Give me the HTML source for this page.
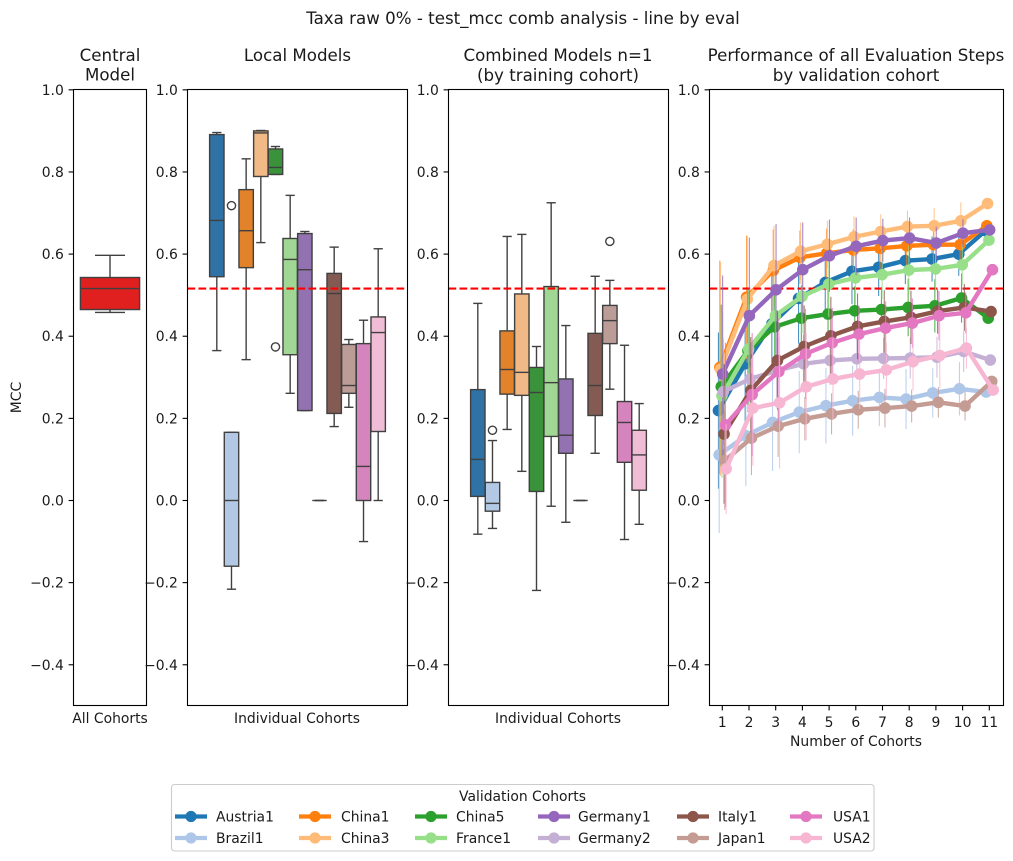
<!DOCTYPE html>
<html>
<head>
<meta charset="utf-8">
<title>Taxa raw 0% - test_mcc comb analysis - line by eval</title>
<style>
html,body{margin:0;padding:0;background:#fff;}
svg{display:block;}
text{font-family:"DejaVu Sans","Liberation Sans",sans-serif;fill:#1a1a1a;}
.tick{font-size:13.9px;}
.ttl{font-size:16.67px;text-anchor:middle;}
.lab{font-size:13.9px;text-anchor:middle;}
.leg{font-size:13.9px;}
</style>
</head>
<body>
<svg id="chart" width="1013" height="861" viewBox="0 0 1013 861" xmlns="http://www.w3.org/2000/svg">
<rect width="1013" height="861" fill="#fff"/>
<g id="plots"></g>

<text class="ttl" x="523" y="24">Taxa raw 0% - test_mcc comb analysis - line by eval</text>

<text class="ttl" x="110" y="61">Central</text>
<text class="ttl" x="110" y="80.5">Model</text>
<text class="ttl" x="297.5" y="61">Local Models</text>
<text class="ttl" x="558" y="61">Combined Models n=1</text>
<text class="ttl" x="558" y="81">(by training cohort)</text>
<text class="ttl" x="856" y="61">Performance of all Evaluation Steps</text>
<text class="ttl" x="856" y="81">by validation cohort</text>

<text class="lab" x="110" y="723">All Cohorts</text>
<text class="lab" x="297" y="723">Individual Cohorts</text>
<text class="lab" x="558" y="723">Individual Cohorts</text>
<text class="lab" x="856" y="746">Number of Cohorts</text>
<text class="lab" transform="translate(21,397.5) rotate(-90)">MCC</text>

<g>
<rect x="171.5" y="784.5" width="702.5" height="66.5" rx="3" fill="#fff" stroke="#cccccc" stroke-width="1.1"/>
<text class="leg" x="522.5" y="801" text-anchor="middle">Validation Cohorts</text>

<g><line x1="175" x2="207" y1="816.5" y2="816.5" stroke="#1f77b4" stroke-width="4.2"/><circle cx="191" cy="816.5" r="5.6" fill="#1f77b4"/><text class="leg" x="216" y="821.5">Austria1</text></g>
<g><line x1="175" x2="207" y1="838" y2="838" stroke="#aec7e8" stroke-width="4.2"/><circle cx="191" cy="838" r="5.6" fill="#aec7e8"/><text class="leg" x="216" y="843">Brazil1</text></g>
<g><line x1="299" x2="331" y1="816.5" y2="816.5" stroke="#ff7f0e" stroke-width="4.2"/><circle cx="315" cy="816.5" r="5.6" fill="#ff7f0e"/><text class="leg" x="341" y="821.5">China1</text></g>
<g><line x1="299" x2="331" y1="838" y2="838" stroke="#ffbb78" stroke-width="4.2"/><circle cx="315" cy="838" r="5.6" fill="#ffbb78"/><text class="leg" x="341" y="843">China3</text></g>
<g><line x1="415" x2="447" y1="816.5" y2="816.5" stroke="#2ca02c" stroke-width="4.2"/><circle cx="431" cy="816.5" r="5.6" fill="#2ca02c"/><text class="leg" x="456" y="821.5">China5</text></g>
<g><line x1="415" x2="447" y1="838" y2="838" stroke="#98df8a" stroke-width="4.2"/><circle cx="431" cy="838" r="5.6" fill="#98df8a"/><text class="leg" x="456" y="843">France1</text></g>
<g><line x1="538" x2="570" y1="816.5" y2="816.5" stroke="#9467bd" stroke-width="4.2"/><circle cx="554" cy="816.5" r="5.6" fill="#9467bd"/><text class="leg" x="578" y="821.5">Germany1</text></g>
<g><line x1="538" x2="570" y1="838" y2="838" stroke="#c5b0d5" stroke-width="4.2"/><circle cx="554" cy="838" r="5.6" fill="#c5b0d5"/><text class="leg" x="578" y="843">Germany2</text></g>
<g><line x1="677" x2="709" y1="816.5" y2="816.5" stroke="#8c564b" stroke-width="4.2"/><circle cx="693" cy="816.5" r="5.6" fill="#8c564b"/><text class="leg" x="718" y="821.5">Italy1</text></g>
<g><line x1="677" x2="709" y1="838" y2="838" stroke="#c49c94" stroke-width="4.2"/><circle cx="693" cy="838" r="5.6" fill="#c49c94"/><text class="leg" x="718" y="843">Japan1</text></g>
<g><line x1="790" x2="822" y1="816.5" y2="816.5" stroke="#e377c2" stroke-width="4.2"/><circle cx="806" cy="816.5" r="5.6" fill="#e377c2"/><text class="leg" x="833" y="821.5">USA1</text></g>
<g><line x1="790" x2="822" y1="838" y2="838" stroke="#f7b6d2" stroke-width="4.2"/><circle cx="806" cy="838" r="5.6" fill="#f7b6d2"/><text class="leg" x="833" y="843">USA2</text></g>
</g>
</svg>

<script>
// ---------- data ----------
const cohorts = ['Austria1','Brazil1','China1','China3','China5','France1','Germany1','Germany2','Italy1','Japan1','USA1','USA2'];
const yTickValues = [1.0,0.8,0.6,0.4,0.2,0.0,-0.2,-0.4];
const yTickLabels = ['1.0','0.8','0.6','0.4','0.2','0.0','\u22120.2','\u22120.4'];
const xTickLabels = ['1','2','3','4','5','6','7','8','9','10','11'];
const referenceMcc = 0.516;

// central model box: whisker low, q1, median, q3, whisker high
const centralStats = [0.458,0.465,0.516,0.543,0.597];

// local models, one entry per cohort
const localWhiskerLow  = [0.365,-0.216,0.343,0.628,0.794,0.261,0.219,0,0.180,0.227,-0.100,0.000];
const localQ1          = [0.545,-0.160,0.567,0.789,0.794,0.355,0.219,0,0.212,0.261,0.000,0.168];
const localMedian      = [0.682,0.000,0.657,0.895,0.811,0.587,0.562,0,0.504,0.280,0.083,0.409];
const localQ3          = [0.891,0.166,0.757,0.900,0.856,0.638,0.650,0,0.553,0.380,0.382,0.447];
const localWhiskerHigh = [0.896,0.166,0.832,0.901,0.862,0.743,0.655,0,0.617,0.392,0.439,0.613];
const localOutlierCohort = [1,4];
const localOutlierValue  = [0.718,0.374];

// combined models, one entry per cohort
const combinedWhiskerLow  = [-0.082,-0.068,0.173,0.071,-0.219,-0.014,-0.053,0,0.115,0.271,-0.095,-0.058];
const combinedQ1          = [0.010,-0.026,0.259,0.256,0.022,0.156,0.115,0,0.207,0.382,0.093,0.025];
const combinedMedian      = [0.100,-0.007,0.319,0.312,0.263,0.287,0.159,0,0.280,0.438,0.190,0.111];
const combinedQ3          = [0.270,0.044,0.413,0.503,0.324,0.521,0.296,0,0.407,0.475,0.241,0.171];
const combinedWhiskerHigh = [0.480,0.146,0.643,0.648,0.375,0.725,0.426,0,0.546,0.536,0.378,0.236];
const combinedOutlierCohort = [1,9];
const combinedOutlierValue  = [0.171,0.631];

// evaluation-step series
const austria1 = [0.219,0.333,0.430,0.492,0.531,0.558,0.568,0.584,0.588,0.600,0.657];
const brazil1  = [0.111,0.158,0.190,0.215,0.231,0.243,0.251,0.247,0.262,0.272,0.264];
const china1   = [0.324,0.495,0.560,0.592,0.602,0.610,0.614,0.620,0.623,0.623,0.669];
const china3   = [0.320,0.490,0.572,0.607,0.624,0.642,0.655,0.667,0.669,0.681,0.723];
const china5   = [0.277,0.365,0.423,0.444,0.454,0.462,0.465,0.470,0.474,0.493,0.444];
const france1  = [0.255,0.369,0.450,0.497,0.527,0.542,0.550,0.561,0.564,0.574,0.634];
const germany1 = [0.308,0.450,0.513,0.562,0.596,0.619,0.633,0.639,0.627,0.651,0.659];
const germany2 = [0.265,0.296,0.316,0.333,0.341,0.345,0.346,0.347,0.349,0.363,0.342];
const italy1   = [0.162,0.268,0.341,0.375,0.401,0.424,0.436,0.446,0.461,0.470,0.460];
const japan1   = [0.097,0.152,0.181,0.199,0.211,0.221,0.225,0.230,0.239,0.230,0.290];
const usa1     = [0.184,0.258,0.314,0.357,0.384,0.405,0.420,0.432,0.450,0.457,0.562];
const usa2     = [0.077,0.225,0.238,0.277,0.296,0.308,0.318,0.338,0.353,0.371,0.269];

// error half-widths for each evaluation-step series
const austria1Err = [0.190,0.150,0.130,0.110,0.090,0.080,0.070,0.057,0.055,0.053,0];
const brazil1Err  = [0.190,0.123,0.118,0.100,0.092,0.085,0.070,0.073,0.060,0.065,0];
const china1Err   = [0.260,0.150,0.100,0.065,0.060,0.050,0.050,0.050,0.045,0.040,0];
const china3Err   = [0.260,0.154,0.097,0.070,0.057,0.050,0.042,0.039,0.043,0.045,0];
const china5Err   = [0.200,0.150,0.100,0.080,0.070,0.060,0.055,0.070,0.065,0.060,0];
const france1Err  = [0.200,0.140,0.100,0.090,0.080,0.065,0.060,0.060,0.055,0.050,0];
const germany1Err = [0.240,0.190,0.160,0.115,0.088,0.070,0.053,0.050,0.040,0.034,0];
const germany2Err = [0.130,0.090,0.080,0.070,0.060,0.050,0.050,0.050,0.050,0.050,0];
const italy1Err   = [0.170,0.130,0.120,0.100,0.095,0.080,0.076,0.065,0.055,0.057,0];
const japan1Err   = [0.120,0.090,0.075,0.053,0.050,0.046,0.047,0.040,0.037,0.035,0];
const usa1Err     = [0.200,0.150,0.130,0.110,0.085,0.070,0.065,0.060,0.060,0.050,0];
const usa2Err     = [0.110,0.140,0.160,0.130,0.100,0.085,0.066,0.070,0.080,0.050,0];

const seriesValues = [austria1,brazil1,china1,china3,china5,france1,germany1,germany2,italy1,japan1,usa1,usa2];
const seriesErrors = [austria1Err,brazil1Err,china1Err,china3Err,china5Err,france1Err,germany1Err,germany2Err,italy1Err,japan1Err,usa1Err,usa2Err];

// ---------- styles and layout ----------
const lineColors = ['#1f77b4','#aec7e8','#ff7f0e','#ffbb78','#2ca02c','#98df8a','#9467bd','#c5b0d5','#8c564b','#c49c94','#e377c2','#f7b6d2'];
const boxColors  = ['#2f72a5','#b3c8e4','#e2822a','#f0b985','#3a923a','#a1d795','#9372b2','#c5b5d3','#845b53','#bc9c97','#d684bd','#f0bcd6'];
const EDGE = '#404040';
const TOP = 89.5, BOTTOM = 705.5;
const SVGNS = 'http://www.w3.org/2000/svg';
const root = document.getElementById('plots');

function yScale(v){ return 500.5 - v * 410.67; }
function xBand(panel, i){ return (panel.left + panel.right) / 2 + (i - 5.5) * 14.67; }
function xStep(n){ return 722.3 + n * 26.7; }
function dodge(i){ return (i - 5.5) * 0.7; }

function mk(tag, attrs, parent){
  const node = document.createElementNS(SVGNS, tag);
  for (const k in attrs) node.setAttribute(k, attrs[k]);
  parent.appendChild(node);
  return node;
}
function mkLine(x1, y1, x2, y2, stroke, width, parent){
  return mk('line', {x1:x1, y1:y1, x2:x2, y2:y2, stroke:stroke, 'stroke-width':width}, parent);
}

function drawBox(parent, cx, halfW, capHalf, lo, q1, med, q3, hi, color, label){
  const g = mk('g', {}, parent);
  
  
  mkLine(cx, yScale(q3), cx, yScale(hi), EDGE, 1.4, g);
  mkLine(cx, yScale(q1), cx, yScale(lo), EDGE, 1.4, g);
  mkLine(cx - capHalf, yScale(hi), cx + capHalf, yScale(hi), EDGE, 1.4, g);
  mkLine(cx - capHalf, yScale(lo), cx + capHalf, yScale(lo), EDGE, 1.4, g);
  mk('rect', {x:cx - halfW, y:yScale(q3), width:2 * halfW, height:Math.max(0, yScale(q1) - yScale(q3)), fill:color, stroke:EDGE, 'stroke-width':1.4}, g);
  mkLine(cx - halfW, yScale(med), cx + halfW, yScale(med), EDGE, 1.4, g);
}

function drawRefLine(parent, panel){
  const ref = mkLine(panel.left, yScale(referenceMcc), panel.right, yScale(referenceMcc), '#ff0000', 2.08, parent);
  ref.setAttribute('stroke-dasharray', '7.7 3.3');
  
  
}

function drawFrame(parent, panel){
  const frame = mk('rect', {x:panel.left, y:TOP, width:panel.right - panel.left, height:BOTTOM - TOP, fill:'none', stroke:'#000', 'stroke-width':1.1}, parent);
  
  
  yTickValues.forEach(function(v, i){
    const t = mkLine(panel.left - 4.9, yScale(v), panel.left, yScale(v), '#000', 1.1, parent);
    
    
    const lab = mk('text', {x:panel.left - 9.7, y:yScale(v) + 5, 'text-anchor':'end', 'class':'tick'}, parent);
    lab.textContent = yTickLabels[i];
    
    
  });
}

function drawBoxPanel(panel, lo, q1, med, q3, hi, outCohort, outValue){
  const g = mk('g', {}, root);
  
  
  cohorts.forEach(function(c, i){
    drawBox(g, xBand(panel, i), 7.2, 4.6, lo[i], q1[i], med[i], q3[i], hi[i], boxColors[i], c);
  });
  outCohort.forEach(function(ci, j){
    const o = mk('circle', {cx:xBand(panel, ci), cy:yScale(outValue[j]), r:4.1, fill:'#fff', stroke:EDGE, 'stroke-width':1.4}, g);
    
    
  });
  drawRefLine(g, panel);
  drawFrame(g, panel);
}

// central panel
const centralPanel = {name:'central', left:73.5, right:146.5};
(function(){
  const g = mk('g', {}, root);
  
  
  drawBox(g, 110, 29.6, 15, centralStats[0], centralStats[1], centralStats[2], centralStats[3], centralStats[4], '#e01f1f', 'all-cohorts');
  drawFrame(g, centralPanel);
})();

// local and combined panels
const localPanel = {name:'local', left:187.5, right:407.5};
const combinedPanel = {name:'combined', left:448.5, right:668.5};
drawBoxPanel(localPanel, localWhiskerLow, localQ1, localMedian, localQ3, localWhiskerHigh, localOutlierCohort, localOutlierValue);
drawBoxPanel(combinedPanel, combinedWhiskerLow, combinedQ1, combinedMedian, combinedQ3, combinedWhiskerHigh, combinedOutlierCohort, combinedOutlierValue);

// performance panel
const perfPanel = {name:'performance', left:709.5, right:1003.5};
(function(){
  const g = mk('g', {}, root);
  
  
  seriesValues.forEach(function(vals, i){
    if (i === 4) drawRefLine(g, perfPanel);
    const s = mk('g', {}, g);
    
    
    vals.forEach(function(v, n){
      const e = seriesErrors[i][n];
      if (e > 0) {
        const bar = mkLine(xStep(n) + dodge(i), yScale(v + e), xStep(n) + dodge(i), yScale(v - e), lineColors[i], 1.1, s);
        bar.setAttribute('stroke-opacity', '0.8');
      }
    });
    const pts = vals.map(function(v, n){ return (xStep(n) + dodge(i)) + ',' + yScale(v); }).join(' ');
    mk('polyline', {points:pts, fill:'none', stroke:lineColors[i], 'stroke-width':4.4, 'stroke-linejoin':'round'}, s);
    vals.forEach(function(v, n){
      mk('circle', {cx:xStep(n) + dodge(i), cy:yScale(v), r:5.8, fill:lineColors[i]}, s);
    });
  });
  drawFrame(g, perfPanel);
  xTickLabels.forEach(function(label, n){
    const t = mkLine(xStep(n), BOTTOM, xStep(n), BOTTOM + 4.9, '#000', 1.1, g);
    
    
    const lab = mk('text', {x:xStep(n), y:727, 'text-anchor':'middle', 'class':'tick'}, g);
    lab.textContent = label;
    
    
  });
})();
</script>
</body>
</html>
